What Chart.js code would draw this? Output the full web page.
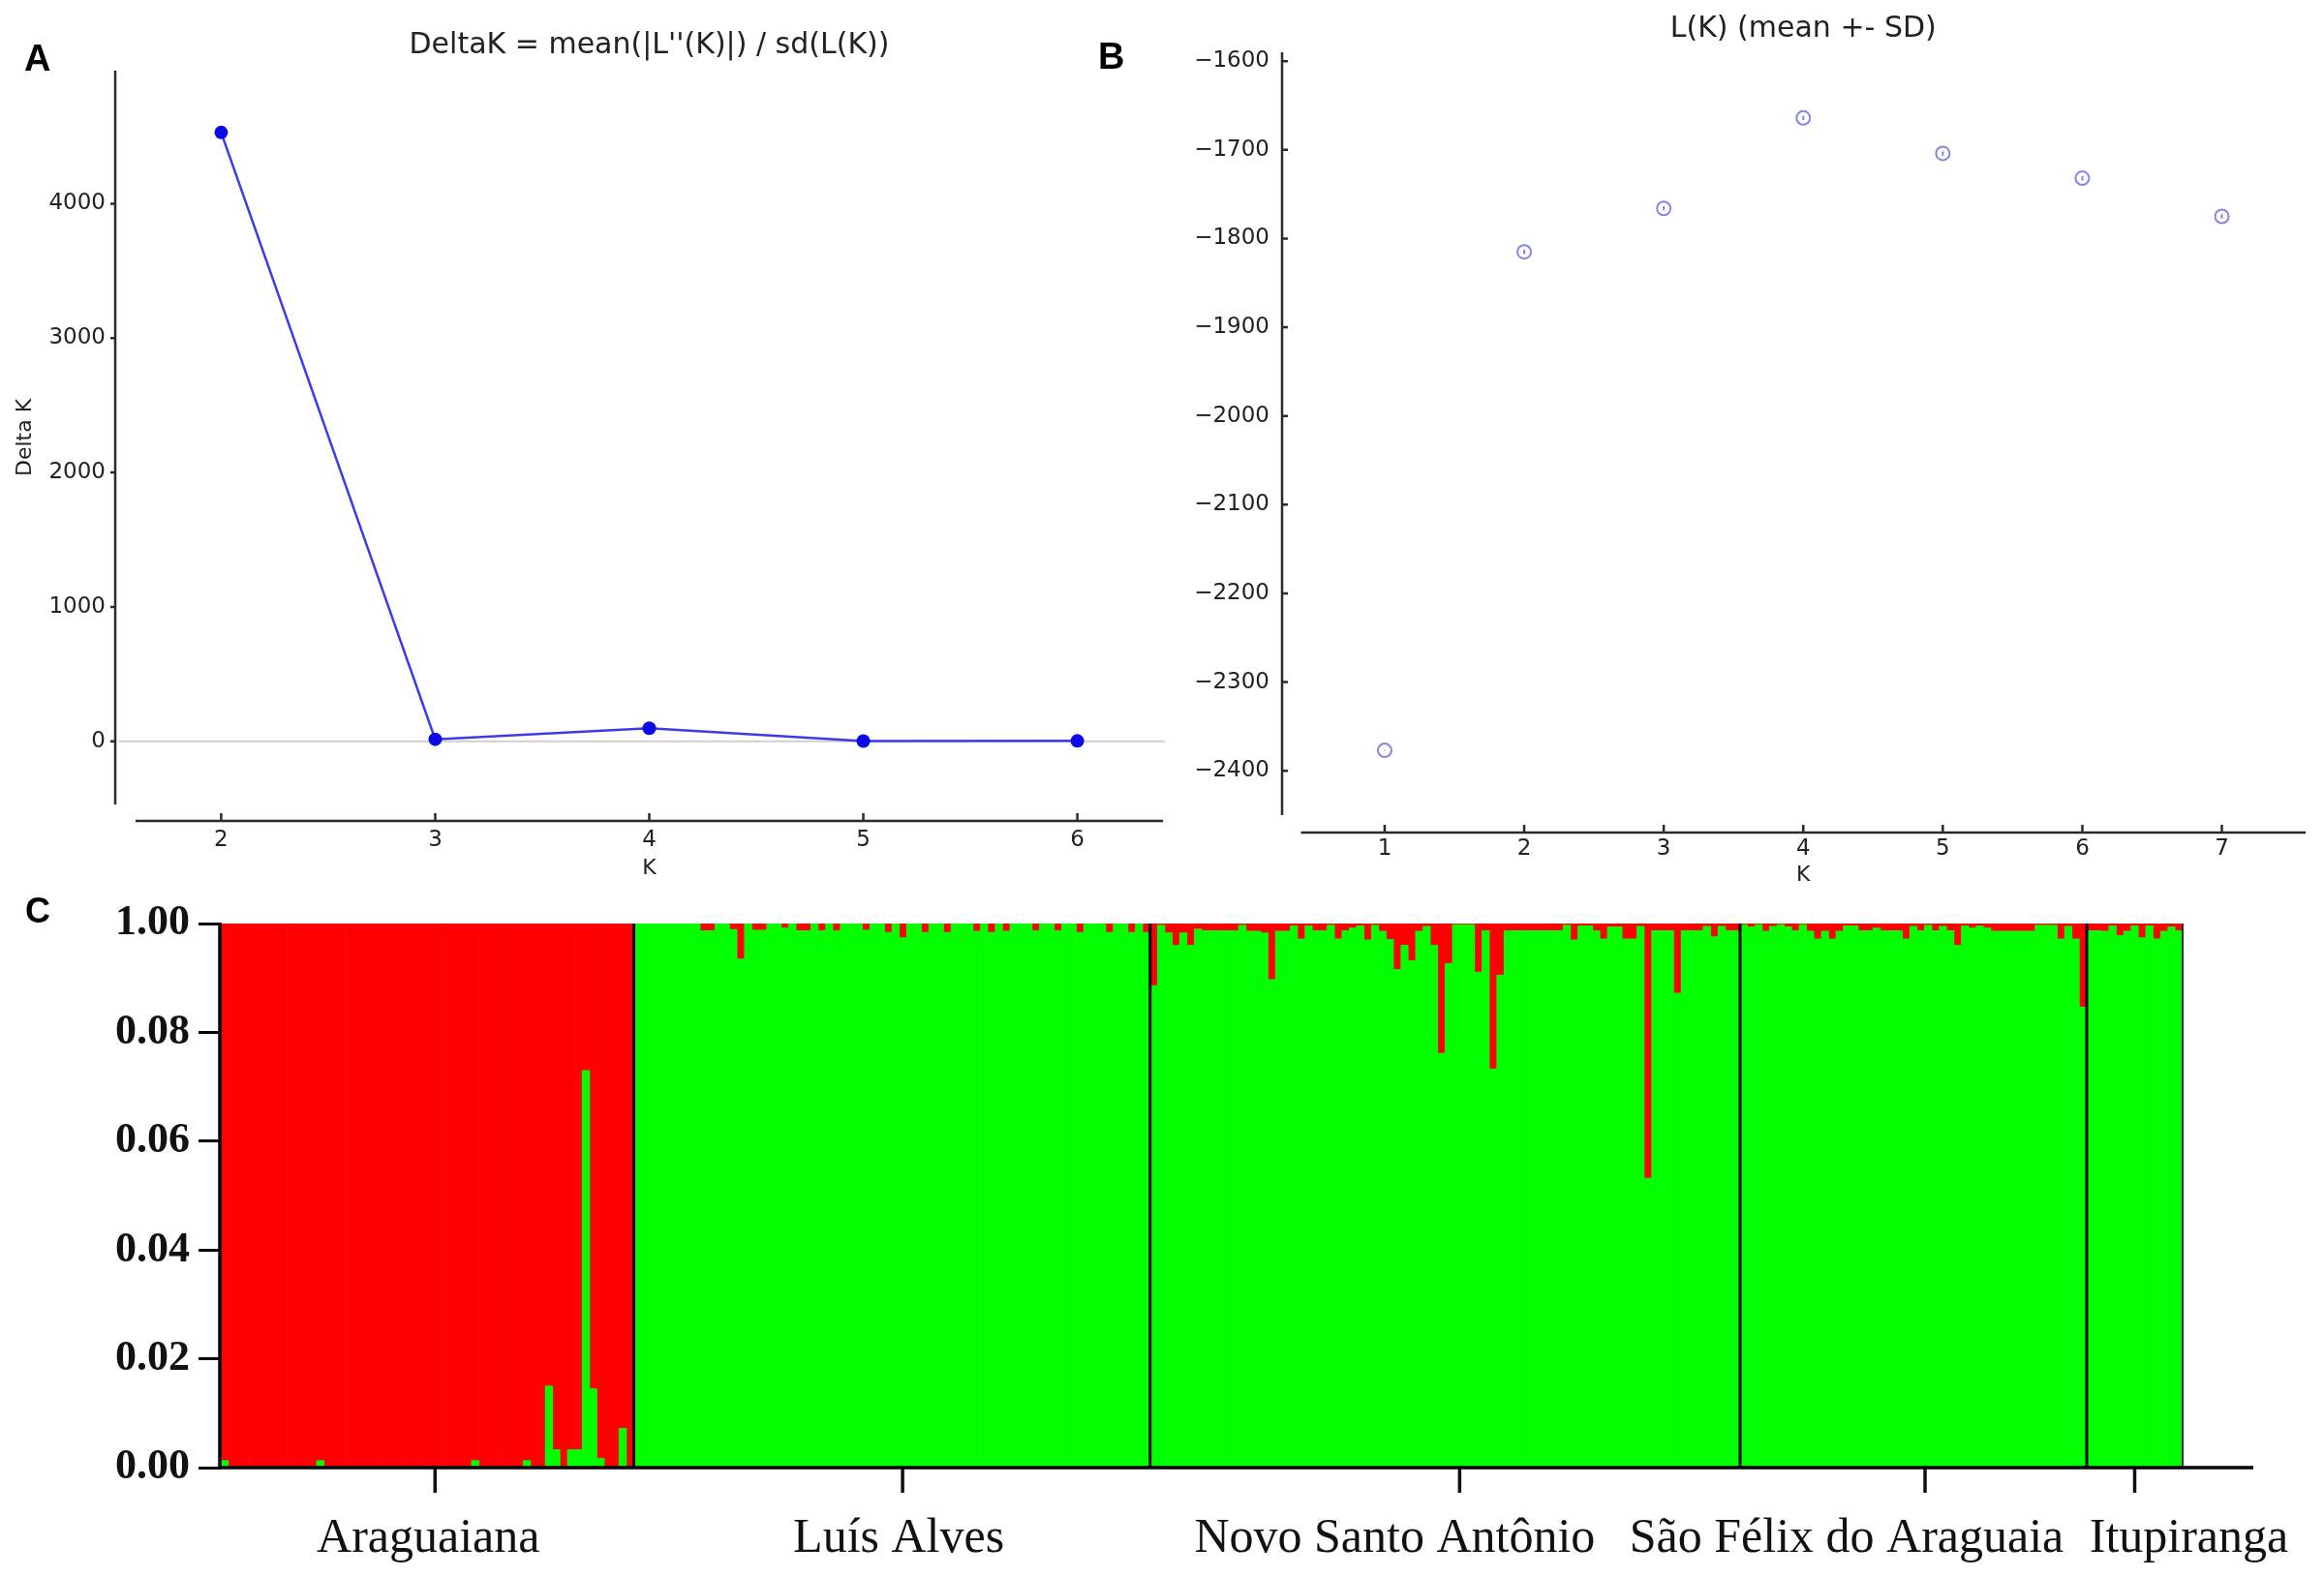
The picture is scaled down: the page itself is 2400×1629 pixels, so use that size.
<!DOCTYPE html>
<html>
<head>
<meta charset="utf-8">
<title>STRUCTURE results</title>
<script src="https://cdn.jsdelivr.net/npm/chart.js@4.4.1/dist/chart.umd.min.js"></script>
<style>
  html, body { margin:0; padding:0; background:#ffffff; }
  body { position:relative; width:2400px; height:1629px; overflow:hidden; }
  canvas { position:absolute; }
  .panel { position:absolute; font-family:"Liberation Sans", Arial, sans-serif; font-weight:bold; line-height:1; color:#000; }
</style>
</head>
<body>
<canvas id="chartA" width="1215" height="930" style="left:0;top:0"></canvas>
<canvas id="chartB" width="1185" height="930" style="left:1215px;top:0"></canvas>
<canvas id="chartC" width="2400" height="729" style="left:0;top:900px"></canvas>
<div class="panel" style="left:25px;top:41px;font-size:38px">A</div>
<div class="panel" style="left:1134px;top:39px;font-size:38px">B</div>
<div class="panel" style="left:26px;top:923px;font-size:36px">C</div>
<script>
// ---------------- Panel A: Delta K ----------------
const kDelta = [2, 3, 4, 5, 6];
const deltaK = [4530, 15, 97, 2, 3];
const kTicksA = [2, 3, 4, 5, 6];
const deltaKTicks = [0, 1000, 2000, 3000, 4000];

// ---------------- Panel B: L(K) ----------------
const kLK = [1, 2, 3, 4, 5, 6, 7];
const meanLK = [-2377, -1815, -1766, -1664, -1704, -1732, -1775];
const sdLK = [0.5, 2.5, 2.5, 2.5, 2.5, 2.5, 2.5];
const kTicksB = [1, 2, 3, 4, 5, 6, 7];
const lkTicks = [-2400, -2300, -2200, -2100, -2000, -1900, -1800, -1700, -1600];

// ---------------- Panel C: membership (red cluster share per individual) ----------------
const populations = ['Araguaiana', 'Luís Alves', 'Novo Santo Antônio', 'São Félix do Araguaia', 'Itupiranga'];
const yTicksC = [0, 0.2, 0.4, 0.6, 0.8, 1];
const yTickLabelsC = ['0.00', '0.02', '0.04', '0.06', '0.08', '1.00'];

const araguaianaRed = [
  0.987,1,1,1,1,1,1,1,1,1,
  1,1,1,0.987,1,1,1,1,1,1,
  1,1,1,1,1,1,1,1,1,1,
  1,1,1,1,0.987,1,1,1,1,1,
  1,0.987,1,1,0.85,0.967,1,0.967,0.967,0.27,
  0.855,0.983,1,1,0.928,1
];
const luisAlvesRed = [
  0,0,0,0,0,0,0,0,0,0.013,
  0.013,0,0,0.011,0.065,0,0.012,0.012,0,0,
  0.008,0,0.013,0.013,0,0.013,0,0.013,0,0,
  0,0.012,0,0,0.016,0,0.026,0,0,0.016,
  0,0,0.016,0,0,0,0.014,0,0.016,0,
  0.014,0,0,0,0.013,0,0,0.013,0,0,
  0.016,0,0,0,0.016,0,0,0.016,0,0.016
];
const novoSantoAntonioRed = [
  0.114,0.003,0.017,0.040,0.017,0.040,0.01,0.013,0.013,0.013,
  0.013,0.013,0.003,0.014,0.014,0.017,0.103,0.014,0.014,0.004,
  0.028,0.004,0.013,0.013,0.003,0.028,0.013,0.008,0.004,0.030,
  0.003,0.014,0.029,0.084,0.040,0.068,0.014,0.005,0.040,0.238,
  0.073,0.002,0.002,0.002,0.089,0.013,0.267,0.095,0.013,0.013,
  0.013,0.013,0.013,0.013,0.013,0.013,0.003,0.030,0.004,0.004,
  0.013,0.028,0.006,0.006,0.028,0.028,0.005,0.468,0.013,0.013,
  0.013,0.128,0.013,0.013,0.013,0.005,0.024,0.005,0.013,0.013
];
const saoFelixRed = [
  0.002,0.006,0.002,0.014,0.005,0.002,0.006,0.013,0.002,0.014,
  0.028,0.014,0.028,0.014,0.004,0.004,0.013,0.013,0.008,0.013,
  0.013,0.013,0.028,0.005,0.013,0.003,0.013,0.005,0.013,0.040,
  0.004,0.008,0.004,0.008,0.014,0.014,0.014,0.014,0.014,0.014,
  0.003,0.003,0.003,0.028,0.005,0.028,0.153
];
const itupirangaRed = [0.013,0.013,0.014,0.004,0.022,0.014,0.004,0.026,0.004,0.028,0.014,0.006,0.013];

const groupsRed = [araguaianaRed, luisAlvesRed, novoSantoAntonioRed, saoFelixRed, itupirangaRed];
const popSizes = groupsRed.map(g => g.length);
const redAll = [].concat(...groupsRed);
const greenAll = redAll.map(v => 1 - v);
const individuals = redAll.map((_, i) => String(i + 1));

// ---------------- plugins ----------------
const offsetSpines = {
  id: 'offsetSpines',
  beforeDatasetsDraw(chart, args, o) {
    if (!o.zeroLine) return;
    const { ctx, chartArea: a } = chart;
    const y = chart.scales.y;
    const p = y.getPixelForValue(0);
    ctx.save();
    ctx.strokeStyle = '#cfcfcf'; ctx.lineWidth = 2;
    ctx.beginPath(); ctx.moveTo(a.left - o.yGap + 4, p); ctx.lineTo(a.right + 2, p); ctx.stroke();
    ctx.restore();
  },
  afterDraw(chart, args, o) {
    const { ctx, chartArea: a } = chart;
    const x = chart.scales.x, y = chart.scales.y;
    const sx = a.left - o.yGap, sy = a.bottom + o.xGap;
    ctx.save();
    ctx.strokeStyle = o.color;
    ctx.lineWidth = o.width;
    ctx.beginPath();
    ctx.moveTo(sx, a.top); ctx.lineTo(sx, a.bottom);
    ctx.moveTo(a.left, sy); ctx.lineTo(a.right, sy);
    y.ticks.forEach(t => { const p = y.getPixelForValue(t.value); ctx.moveTo(sx + o.yTick, p); ctx.lineTo(sx, p); });
    x.ticks.forEach(t => { const p = x.getPixelForValue(t.value); ctx.moveTo(p, sy); ctx.lineTo(p, sy - o.xTick); });
    ctx.stroke();
    ctx.restore();
  }
};

const errorBars = {
  id: 'errorBars',
  afterDatasetsDraw(chart, args, o) {
    const { ctx } = chart;
    const x = chart.scales.x, y = chart.scales.y;
    ctx.save();
    ctx.strokeStyle = o.color; ctx.lineWidth = 2;
    ctx.beginPath();
    kLK.forEach((k, i) => {
      const px = x.getPixelForValue(k);
      ctx.moveTo(px, y.getPixelForValue(meanLK[i] - sdLK[i]));
      ctx.lineTo(px, y.getPixelForValue(meanLK[i] + sdLK[i]));
    });
    ctx.stroke();
    ctx.restore();
  }
};

const structurePlugin = {
  id: 'structure',
  afterDatasetsDraw(chart, args, o) {
    const { ctx, chartArea: a } = chart;
    const x = chart.scales.x;
    const line = (x1, y1, x2, y2, w, c) => {
      ctx.beginPath(); ctx.lineWidth = w; ctx.strokeStyle = c;
      ctx.moveTo(x1, y1); ctx.lineTo(x2, y2); ctx.stroke();
    };
    ctx.save();
    let start = 0;
    popSizes.forEach((n, g) => {
      if (g > 0) {
        const px = (x.getPixelForValue(start - 1) + x.getPixelForValue(start)) / 2;
        line(px, a.top, px, a.bottom, 3, '#000');
      }
      const c = x.getPixelForValue(start + (n - 1) / 2);
      const tx = c + o.tickShift[g];
      line(tx, a.bottom, tx, a.bottom + o.tickLen, 3.5, '#111');
      ctx.font = o.font;
      ctx.fillStyle = '#111';
      ctx.textAlign = 'center';
      ctx.textBaseline = 'alphabetic';
      ctx.fillText(populations[g], c + o.labelShift[g], a.bottom + o.labelDrop);
      start += n;
    });
    line(a.right, a.top, a.right, a.bottom, 2, '#332a40');
    line(a.left - 1, a.top - 1, a.left - 1, a.bottom, 3.5, '#000');
    line(a.left - 2.75, a.bottom, a.right + o.axisExtra, a.bottom, 3.5, '#000');
    ctx.restore();
  }
};

Chart.defaults.animation = false;

const sansTick = { family: 'DejaVu Sans', size: 23 };
const sansTitle = { family: 'DejaVu Sans', size: 22 };
const setTicks = arr => s => { s.ticks = arr.map(v => ({ value: v })); };

// ---------------- Chart A ----------------
new Chart(document.getElementById('chartA'), {
  type: 'line',
  data: {
    datasets: [{
      data: kDelta.map((k, i) => ({ x: k, y: deltaK[i] })),
      borderColor: '#3b3bea', borderWidth: 2.5,
      pointRadius: 7, pointBackgroundColor: '#0a0ae6', pointBorderWidth: 0,
      tension: 0, fill: false
    }]
  },
  options: {
    responsive: false, devicePixelRatio: 1, animation: false,
    layout: { padding: { left: 0, right: 14, top: 0, bottom: 19.2 } },
    plugins: {
      legend: { display: false }, tooltip: { enabled: false },
      title: { display: true, text: "DeltaK = mean(|L''(K)|) / sd(L(K))", fullSize: false, color: '#222',
               font: { family: 'DejaVu Sans', size: 30, weight: 'normal' }, padding: { top: 29, bottom: 8 } },
      offsetSpines: { yGap: 21, xGap: 17, yTick: -5, xTick: 8, color: '#2a2a2a', width: 2.5, zeroLine: true }
    },
    scales: {
      x: {
        type: 'linear', min: 1.6, max: 6.4,
        grid: { display: false, drawTicks: false }, border: { display: false },
        afterBuildTicks: setTicks(kTicksA),
        ticks: { padding: 23, color: '#222', font: sansTick, callback: v => String(v) },
        title: { display: true, text: 'K', color: '#222', font: sansTitle, padding: { top: 0, bottom: 0 } },
        afterFit: s => { s.height = 79.8; }
      },
      y: {
        type: 'linear', min: -470, max: 4990,
        grid: { display: false, drawTicks: false },
        border: { display: false },
        afterBuildTicks: setTicks(deltaKTicks),
        ticks: { padding: 31, color: '#222', font: sansTick, callback: v => String(v) },
        title: { display: true, text: 'Delta K', color: '#222', font: sansTitle, padding: { top: 13, bottom: 0 } },
        afterFit: s => { s.width = 140; }
      }
    }
  },
  plugins: [offsetSpines]
});

// ---------------- Chart B ----------------
new Chart(document.getElementById('chartB'), {
  type: 'scatter',
  data: {
    datasets: [{
      data: kLK.map((k, i) => ({ x: k, y: meanLK[i] })),
      pointRadius: 7, pointBorderWidth: 2, pointBorderColor: '#8585e2',
      pointBackgroundColor: 'rgba(0,0,0,0)', showLine: false
    }]
  },
  options: {
    responsive: false, devicePixelRatio: 1, animation: false,
    layout: { padding: { left: 0, right: 19, top: 0, bottom: 12.8 } },
    plugins: {
      legend: { display: false }, tooltip: { enabled: false },
      title: { display: true, text: 'L(K) (mean +- SD)', fullSize: false, color: '#222',
               font: { family: 'DejaVu Sans', size: 30, weight: 'normal' }, padding: { top: 12, bottom: 6 } },
      offsetSpines: { yGap: 19.5, xGap: 18, yTick: 6, xTick: 8, color: '#2a2a2a', width: 2.5 },
      errorBars: { color: '#8585e2' }
    },
    scales: {
      x: {
        type: 'linear', min: 0.4, max: 7.6,
        grid: { display: false, drawTicks: false }, border: { display: false },
        afterBuildTicks: setTicks(kTicksB),
        ticks: { padding: 21.2, color: '#222', font: sansTick, callback: v => String(v) },
        title: { display: true, text: 'K', color: '#222', font: sansTitle, padding: { top: 0, bottom: 0 } },
        afterFit: s => { s.height = 75.2; }
      },
      y: {
        type: 'linear', min: -2450, max: -1590,
        grid: { display: false, drawTicks: false }, border: { display: false },
        afterBuildTicks: setTicks(lkTicks),
        ticks: { padding: 32.5, color: '#222', font: sansTick,
                 callback: v => (v < 0 ? '\u2212' : '') + Math.abs(v) },
        afterFit: s => { s.width = 128.5; }
      }
    }
  },
  plugins: [offsetSpines, errorBars]
});

// ---------------- Chart C ----------------
new Chart(document.getElementById('chartC'), {
  type: 'bar',
  data: {
    labels: individuals,
    datasets: [
      { label: 'Cluster 2', data: greenAll, backgroundColor: '#00ff00', borderWidth: 0, barPercentage: 1, categoryPercentage: 1 },
      { label: 'Cluster 1', data: redAll, backgroundColor: '#ff0000', borderWidth: 0, barPercentage: 1, categoryPercentage: 1 }
    ]
  },
  options: {
    responsive: false, devicePixelRatio: 1, animation: false,
    layout: { padding: { left: 0, right: 146, top: 54, bottom: 0 } },
    plugins: {
      legend: { display: false }, tooltip: { enabled: false },
      structure: { tickLen: 26, labelDrop: 87, axisExtra: 73, font: '50px "Liberation Serif", "Times New Roman", serif',
                   labelShift: [1, 7, -52, -69, 56], tickShift: [8, 11, 15, 12, 0] }
    },
    scales: {
      x: {
        stacked: true,
        grid: { display: false }, border: { display: false }, ticks: { display: false },
        afterFit: s => { s.height = 113; }
      },
      y: {
        stacked: true, min: 0, max: 1,
        grid: { display: true, drawOnChartArea: false, drawTicks: true, tickLength: 23, lineWidth: 3, tickWidth: 3, tickColor: '#000', color: '#000' },
        border: { display: false },
        afterBuildTicks: setTicks(yTicksC),
        ticks: { padding: 9, color: '#111',
                 font: { family: 'Liberation Serif', size: 44, weight: 'bold' },
                 callback: (v, i) => yTickLabelsC[i] },
        afterFit: s => { s.width = 228; }
      }
    }
  },
  plugins: [structurePlugin]
});
</script>
</body>
</html>
